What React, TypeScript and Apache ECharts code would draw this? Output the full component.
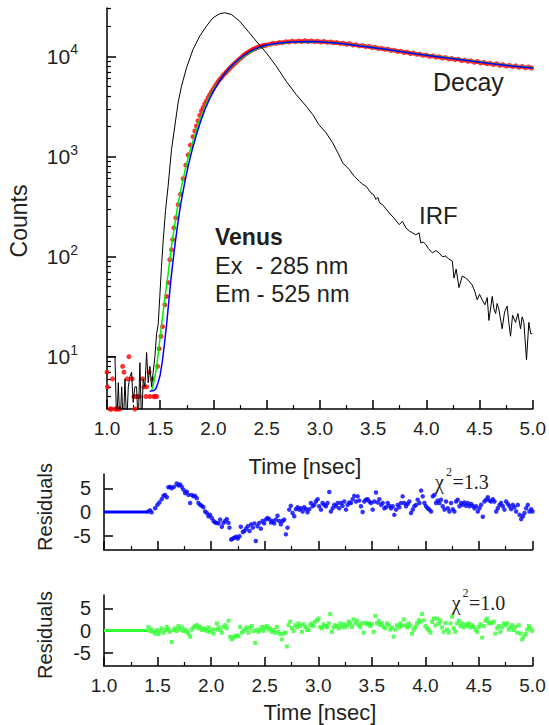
import React, { useEffect, useRef } from 'react';
import * as echarts from 'echarts';

// ---------- data ----------
// Time [nsec] vs Counts
const irf: [number, number][] = [
  [1.000, 10], [1.075, 10], [1.091, 2], [1.106, 5.5], [1.122, 2], [1.138, 5], [1.153, 2], [1.169, 6],
  [1.185, 2], [1.200, 5], [1.215, 6.3], [1.231, 7], [1.246, 3.5], [1.262, 5], [1.278, 5], [1.293, 2],
  [1.309, 8.7], [1.325, 2], [1.340, 6], [1.356, 5], [1.372, 11], [1.387, 5.5], [1.403, 8], [1.419, 5],
  [1.434, 7], [1.450, 10], [1.466, 17], [1.481, 21], [1.496, 40], [1.512, 80], [1.527, 140], [1.550, 290],
  [1.574, 505], [1.606, 1175], [1.637, 2010], [1.668, 3440], [1.700, 5050], [1.747, 7710], [1.808, 11750],
  [1.871, 15960], [1.934, 20100], [1.996, 24380], [2.059, 26730], [2.105, 27350], [2.168, 26300],
  [2.246, 22540], [2.324, 17910], [2.402, 14220], [2.496, 10890], [2.590, 8000], [2.683, 5660],
  [2.777, 4170], [2.871, 3185], [2.933, 2630], [2.989, 2090], [3.058, 1726], [3.120, 1371], [3.185, 1007],
  [3.214, 865], [3.245, 800], [3.276, 741], [3.323, 635], [3.370, 566], [3.400, 530], [3.433, 505],
  [3.480, 433], [3.505, 415], [3.527, 372], [3.545, 390], [3.560, 345], [3.588, 331], [3.620, 300],
  [3.651, 274], [3.700, 240], [3.745, 209], [3.776, 225], [3.807, 194], [3.840, 180], [3.869, 173],
  [3.900, 165], [3.932, 173], [3.948, 137], [3.970, 140], [3.995, 132], [4.020, 120], [4.057, 109],
  [4.090, 115], [4.119, 109], [4.150, 100], [4.182, 101], [4.210, 95], [4.244, 90], [4.260, 61],
  [4.280, 75], [4.307, 49], [4.338, 64], [4.370, 61], [4.400, 57], [4.431, 52], [4.455, 45], [4.478, 37],
  [4.500, 42], [4.525, 37], [4.550, 33], [4.572, 39], [4.588, 23], [4.619, 40], [4.635, 30], [4.651, 27],
  [4.665, 34], [4.681, 30], [4.712, 19], [4.735, 28], [4.759, 32], [4.775, 22], [4.791, 16], [4.810, 26],
  [4.838, 22], [4.860, 27], [4.885, 19], [4.900, 25], [4.916, 22], [4.941, 9.3], [4.963, 22], [4.980, 17],
  [4.994, 17],
];

const decay: [number, number][] = [
  [1.000, 7], [1.005, 5], [1.028, 3], [1.040, 3], [1.053, 6], [1.075, 3], [1.090, 3], [1.103, 3],
  [1.120, 3], [1.147, 8], [1.159, 7], [1.190, 6], [1.206, 10], [1.237, 6], [1.253, 4], [1.262, 3],
  [1.278, 4], [1.303, 4], [1.334, 6], [1.347, 5], [1.365, 4], [1.372, 5], [1.396, 7], [1.403, 4],
  [1.428, 6], [1.440, 4], [1.450, 4], [1.466, 4], [1.475, 8], [1.490, 12], [1.506, 16], [1.522, 20],
  [1.543, 33], [1.559, 40], [1.575, 55], [1.590, 93], [1.606, 117], [1.617, 148], [1.628, 194],
  [1.646, 244], [1.668, 331], [1.690, 420], [1.715, 600], [1.740, 820], [1.762, 1040], [1.784, 1300],
  [1.808, 1580], [1.825, 1800], [1.840, 2020], [1.855, 2280], [1.871, 2580], [1.887, 2850], [1.902, 3080],
  [1.918, 3350], [1.934, 3600], [1.950, 3880], [1.965, 4130], [1.980, 4400], [1.996, 4680], [2.012, 5000],
  [2.028, 5300], [2.043, 5600], [2.059, 5900], [2.075, 6150], [2.090, 6450], [2.106, 6750], [2.121, 7000],
  [2.137, 7300], [2.152, 7600], [2.168, 7900], [2.183, 8200], [2.199, 8500], [2.215, 8800], [2.230, 9100],
  [2.246, 9450], [2.262, 9750], [2.277, 10100], [2.293, 10400], [2.309, 10700], [2.324, 10950],
  [2.340, 11250], [2.355, 11500], [2.371, 11750], [2.387, 11950], [2.402, 12150], [2.418, 12350],
  [2.433, 12500], [2.449, 12650], [2.465, 12800], [2.480, 12900], [2.496, 13000], [2.530, 13250],
  [2.560, 13550], [2.590, 13500], [2.620, 13800], [2.650, 13750], [2.680, 14050], [2.710, 13950],
  [2.740, 14250], [2.770, 14050], [2.800, 14300], [2.830, 14100], [2.860, 14350], [2.890, 14100],
  [2.920, 14300], [2.950, 14050], [2.980, 14200], [3.010, 13950], [3.040, 14100], [3.070, 13850],
  [3.100, 13950], [3.130, 13700], [3.160, 13750], [3.190, 13500], [3.220, 13550], [3.250, 13250],
  [3.280, 13400], [3.310, 13000], [3.340, 13100], [3.370, 12750], [3.400, 12850], [3.430, 12550],
  [3.460, 12600], [3.490, 12250], [3.520, 12350], [3.550, 12000], [3.580, 12050], [3.610, 11750],
  [3.640, 11800], [3.670, 11500], [3.700, 11550], [3.730, 11200], [3.760, 11300], [3.790, 10950],
  [3.820, 11050], [3.850, 10700], [3.880, 10800], [3.910, 10500], [3.940, 10550], [3.970, 10250],
  [4.000, 10350], [4.030, 10050], [4.060, 10150], [4.090, 9850], [4.120, 9950], [4.150, 9650],
  [4.180, 9750], [4.210, 9450], [4.240, 9550], [4.270, 9300], [4.300, 9400], [4.330, 9100],
  [4.360, 9200], [4.390, 8950], [4.420, 9050], [4.450, 8750], [4.480, 8900], [4.510, 8600],
  [4.540, 8700], [4.570, 8450], [4.600, 8550], [4.630, 8300], [4.660, 8450], [4.690, 8150],
  [4.720, 8300], [4.750, 8000], [4.780, 8150], [4.810, 7900], [4.840, 8050], [4.870, 7800],
  [4.900, 7950], [4.930, 7700], [4.960, 7850], [4.990, 7650],
];

const fitGreen: [number, number][] = [
  [1.420, 4.6], [1.440, 5.5], [1.460, 7.2], [1.480, 10.5], [1.500, 16], [1.520, 24], [1.540, 36],
  [1.560, 52], [1.580, 75], [1.600, 115], [1.620, 160], [1.640, 220], [1.660, 300], [1.680, 390],
  [1.700, 500], [1.720, 630], [1.740, 780], [1.760, 950], [1.780, 1140], [1.800, 1350], [1.840, 1820],
  [1.871, 2344], [1.900, 2750], [1.930, 3300], [1.960, 3900], [2.000, 4650], [2.050, 5600], [2.100, 6600],
  [2.150, 7550], [2.200, 8500], [2.250, 9400], [2.300, 10300], [2.350, 11100], [2.400, 11800],
  [2.450, 12400], [2.500, 12900], [2.600, 13450], [2.700, 13800], [2.800, 14000], [2.900, 14100],
  [3.000, 14050], [3.200, 13500], [3.400, 12700], [3.600, 11900], [3.800, 11050], [4.000, 10350],
  [4.200, 9700], [4.400, 9100], [4.600, 8550], [4.800, 8100], [5.000, 7700],
];

const fitBlue: [number, number][] = [
  [1.400, 4.5], [1.440, 4.6], [1.460, 4.8], [1.480, 5.5], [1.500, 6.6], [1.520, 9], [1.540, 13.5],
  [1.560, 21], [1.580, 35], [1.600, 58], [1.620, 90], [1.640, 135], [1.660, 195], [1.680, 275],
  [1.700, 370], [1.720, 480], [1.740, 620], [1.760, 780], [1.780, 960], [1.800, 1170], [1.840, 1650],
  [1.880, 2250], [1.920, 2950], [1.960, 3700], [2.000, 4500], [2.050, 5550], [2.100, 6600], [2.150, 7650],
  [2.200, 8650], [2.250, 9600], [2.300, 10500], [2.350, 11300], [2.400, 12000], [2.450, 12550],
  [2.500, 13000], [2.600, 13550], [2.700, 13900], [2.800, 14050], [2.900, 14100], [3.000, 14000],
  [3.200, 13450], [3.400, 12650], [3.600, 11850], [3.800, 11000], [4.000, 10300], [4.200, 9650],
  [4.400, 9050], [4.600, 8500], [4.800, 8050], [5.000, 7650],
];

// Residuals (blue fit, chi2 = 1.3)
const residBlueFlat: [number, number][] = [[1.0, 0], [1.41, 0]];
const residBlue: [number, number][] = [
  [1.414, 0.1], [1.430, 0.35], [1.445, -0.07], [1.477, 0.8], [1.498, 1.5], [1.517, 2.0], [1.539, 2.7],
  [1.555, 3.4], [1.570, 3.6], [1.586, 3.1], [1.601, 5.2], [1.617, 5.3], [1.632, 5.0], [1.654, 5.3],
  [1.679, 6.0], [1.695, 5.6], [1.710, 5.8], [1.726, 5.3], [1.741, 4.7], [1.757, 4.0], [1.773, 4.3],
  [1.788, 3.6], [1.804, 1.9], [1.819, 3.6], [1.835, 3.3], [1.850, 3.4], [1.866, 2.9], [1.882, 1.9],
  [1.897, 1.5], [1.913, 1.3], [1.928, 1.0], [1.944, 0.1], [1.960, -0.2], [1.975, -0.9], [1.990, -0.6],
  [2.006, -1.25], [2.022, -1.9], [2.037, -2.2], [2.053, -2.3], [2.069, -2.4], [2.084, -1.6], [2.100, -3.1],
  [2.115, -2.3], [2.131, -1.9], [2.146, -1.5], [2.162, -2.3], [2.171, -3.3], [2.187, -5.8], [2.202, -5.6],
  [2.218, -5.4], [2.234, -5.2], [2.249, -5.6], [2.265, -5.1], [2.277, -3.1], [2.296, -4.2], [2.311, -4.0],
  [2.327, -3.5], [2.343, -3.0], [2.358, -4.0], [2.374, -2.6], [2.389, -3.3], [2.405, -2.4], [2.417, -6.1],
  [2.433, -3.0], [2.449, -2.3], [2.464, -3.5], [2.480, -1.9], [2.495, -2.4], [2.511, -1.6], [2.526, -1.25],
  [2.542, -1.5], [2.558, -2.2], [2.573, -1.9], [2.589, -2.4], [2.604, -1.6], [2.620, -0.8], [2.636, -1.9],
  [2.651, -2.6], [2.667, -1.9], [2.682, -1.6], [2.698, -4.7], [2.713, -3.3], [2.729, 0.5], [2.744, 1.3],
  [2.760, -0.2], [2.776, -0.9], [2.791, 0.6], [2.807, 1.0], [2.822, 0.5], [2.838, 0.8], [2.854, 0.1],
  [2.869, 1.0], [2.885, 0.6], [2.900, -0.07], [2.916, 0.6], [2.931, 1.9], [2.947, 1.2], [2.963, 1.5],
  [2.978, 2.2], [2.994, 2.7], [3.009, 1.2], [3.025, 0.5], [3.040, 1.9], [3.056, 1.5], [3.072, 1.2],
  [3.087, 1.9], [3.103, 4.2], [3.118, 0.1], [3.134, 0.8], [3.149, 1.5], [3.165, 1.2], [3.181, 1.9],
  [3.196, 0.8], [3.212, 1.9], [3.227, 1.3], [3.243, 2.2], [3.259, 0.5], [3.274, 1.5], [3.290, 2.0],
  [3.305, 1.9], [3.321, 2.7], [3.336, 3.4], [3.352, 2.2], [3.368, 3.3], [3.383, 2.4], [3.399, 1.2],
  [3.414, 0.0], [3.430, 2.2], [3.445, 2.6], [3.461, 2.7], [3.477, 2.2], [3.492, 1.9], [3.508, 0.5],
  [3.523, 2.2], [3.539, 4.1], [3.555, 2.0], [3.570, 2.7], [3.586, 1.5], [3.601, 1.9], [3.617, 0.8],
  [3.632, 1.0], [3.648, 1.9], [3.664, 1.3], [3.679, 0.8], [3.695, 1.2], [3.710, -0.6], [3.726, 0.5],
  [3.741, 1.5], [3.757, 1.0], [3.773, 1.9], [3.788, 3.3], [3.804, 1.9], [3.819, 1.2], [3.835, 1.7],
  [3.850, 2.2], [3.866, -0.2], [3.882, 0.5], [3.897, 1.2], [3.913, 1.5], [3.928, 2.6], [3.944, 1.9],
  [3.960, 4.5], [3.975, 3.3], [3.991, 1.9], [4.006, 1.2], [4.022, 0.8], [4.037, 0.5], [4.053, 0.1],
  [4.069, 3.3], [4.084, 3.6], [4.100, 1.9], [4.115, 2.4], [4.131, 1.9], [4.146, 2.6], [4.162, 1.2],
  [4.178, 0.5], [4.193, 2.2], [4.209, 0.8], [4.224, 0.1], [4.240, 1.9], [4.256, 0.6], [4.271, 0.1],
  [4.287, 2.2], [4.302, 2.6], [4.318, 1.2], [4.333, 1.9], [4.349, 1.5], [4.364, 2.0], [4.380, 1.3],
  [4.396, 1.9], [4.411, 1.2], [4.427, 1.7], [4.442, 1.3], [4.458, 0.8], [4.474, 1.2], [4.489, 0.1],
  [4.505, 0.8], [4.520, 1.5], [4.536, -1.0], [4.551, 2.2], [4.567, 2.6], [4.583, 3.1], [4.598, 2.4],
  [4.614, 2.2], [4.630, 2.7], [4.645, 2.2], [4.661, 0.1], [4.676, 0.8], [4.692, 1.5], [4.707, 1.9],
  [4.723, 1.2], [4.738, 0.5], [4.754, 2.2], [4.770, 1.7], [4.785, 1.2], [4.801, 0.6], [4.816, 1.5],
  [4.832, 1.0], [4.847, 0.1], [4.863, 1.5], [4.879, -0.6], [4.894, -1.5], [4.910, -0.9], [4.925, -0.2],
  [4.941, 0.8], [4.956, 1.5], [4.972, 0.1], [4.988, 0.6], [5.000, 0.1],
];

// Residuals (green fit, chi2 = 1.0)
const residGreenFlat: [number, number][] = [[1.0, 0], [1.41, 0]];
const residGreen: [number, number][] = [
  [1.414, 0.8], [1.430, -0.1], [1.445, 0.2], [1.461, -0.3], [1.477, -0.7], [1.492, 0.1], [1.508, -0.8],
  [1.523, -0.1], [1.539, 0.5], [1.555, -0.5], [1.570, 0.1], [1.586, 0.8], [1.601, 0.2], [1.617, -0.3],
  [1.632, -2.6], [1.648, 0.1], [1.664, 0.5], [1.679, -0.1], [1.695, 1.0], [1.710, 0.2], [1.726, 0.7],
  [1.741, -0.1], [1.757, 0.2], [1.773, -0.3], [1.788, -0.7], [1.804, -1.4], [1.819, 0.2], [1.835, 0.7],
  [1.850, 1.0], [1.866, 1.2], [1.882, 0.5], [1.897, 0.8], [1.913, 0.1], [1.928, 0.5], [1.944, 0.2],
  [1.960, -0.1], [1.975, 0.7], [1.990, -0.3], [2.006, 0.2], [2.022, -0.7], [2.037, 0.2], [2.053, 1.6],
  [2.069, 0.7], [2.084, 0.1], [2.100, -0.5], [2.115, 0.8], [2.131, 1.2], [2.146, 0.5], [2.162, 2.2],
  [2.178, -1.4], [2.193, -2.0], [2.209, -1.6], [2.224, -1.3], [2.240, -1.1], [2.255, -1.3], [2.271, 0.8],
  [2.287, -0.5], [2.302, -0.1], [2.318, 0.2], [2.333, 0.7], [2.349, -0.5], [2.364, 0.5], [2.380, 1.0],
  [2.396, -0.1], [2.411, -2.8], [2.427, 0.1], [2.442, -0.3], [2.458, 0.2], [2.474, 0.8], [2.489, -0.1],
  [2.505, 0.7], [2.520, 1.0], [2.536, 0.2], [2.551, 0.5], [2.567, -0.3], [2.583, 0.1], [2.598, -0.5],
  [2.614, 0.8], [2.629, -0.3], [2.645, -0.8], [2.660, -2.0], [2.676, -0.7], [2.692, -0.5], [2.707, -3.6],
  [2.723, 1.2], [2.738, 2.0], [2.754, 0.5], [2.769, -0.1], [2.785, 1.2], [2.801, 0.7], [2.816, 1.6],
  [2.832, 1.0], [2.847, -0.3], [2.863, 1.4], [2.879, 0.8], [2.894, 0.2], [2.910, 0.1], [2.925, 1.2],
  [2.941, 1.6], [2.956, 1.0], [2.972, 2.0], [2.988, 2.3], [3.003, 2.7], [3.019, 0.8], [3.034, 0.5],
  [3.050, 1.4], [3.065, 1.0], [3.081, 0.7], [3.097, 1.6], [3.112, 3.7], [3.128, -0.3], [3.143, 0.7],
  [3.159, 1.2], [3.174, 1.0], [3.190, 0.5], [3.206, 1.6], [3.221, 0.8], [3.237, 1.4], [3.252, 0.7],
  [3.268, 1.2], [3.283, 2.0], [3.299, 1.6], [3.315, 0.8], [3.330, 2.5], [3.346, 1.6], [3.361, 2.2],
  [3.377, 1.2], [3.393, 0.7], [3.408, 1.6], [3.424, -0.5], [3.439, 1.7], [3.455, 1.4], [3.470, 1.6],
  [3.486, 1.0], [3.502, 1.4], [3.517, -0.3], [3.533, 3.3], [3.548, 1.6], [3.564, 2.2], [3.579, 1.2],
  [3.595, 1.6], [3.611, 0.8], [3.626, 0.5], [3.642, 1.6], [3.657, 1.2], [3.673, 0.2], [3.688, 0.7],
  [3.704, -1.4], [3.720, 0.2], [3.735, 1.2], [3.751, 0.7], [3.766, 1.6], [3.782, 1.0], [3.798, 2.5],
  [3.813, 1.2], [3.829, 0.7], [3.844, 1.6], [3.860, 1.0], [3.875, -0.7], [3.891, 0.2], [3.907, 0.8],
  [3.922, 1.6], [3.938, 2.3], [3.953, 2.0], [3.969, 3.7], [3.984, 2.3], [4.000, 1.0], [4.016, 0.5],
  [4.031, 0.1], [4.047, -0.5], [4.062, 2.0], [4.078, 2.7], [4.093, 1.2], [4.109, 2.7], [4.125, 1.6],
  [4.140, 2.2], [4.156, 0.7], [4.171, -0.3], [4.187, 1.7], [4.202, 0.2], [4.218, -0.5], [4.234, 1.6],
  [4.249, 3.1], [4.265, 0.5], [4.280, -0.3], [4.296, 1.6], [4.312, 2.2], [4.327, 1.0], [4.343, 1.6],
  [4.358, 0.7], [4.374, 1.4], [4.389, 1.0], [4.405, 1.6], [4.421, 0.7], [4.436, 1.2], [4.452, 0.8],
  [4.467, 0.2], [4.483, -0.3], [4.498, 0.8], [4.514, 1.4], [4.530, -1.6], [4.545, 1.0], [4.561, 2.2],
  [4.576, 2.7], [4.592, 1.7], [4.607, 1.6], [4.623, 1.7], [4.639, 2.0], [4.654, -0.7], [4.670, 0.5],
  [4.685, 1.0], [4.701, -0.3], [4.717, 0.7], [4.732, 1.6], [4.748, 1.2], [4.763, 1.6], [4.779, 0.2],
  [4.794, 0.7], [4.810, 1.2], [4.826, 0.1], [4.841, 0.8], [4.857, -0.5], [4.872, 1.2], [4.888, -0.7],
  [4.903, -2.0], [4.919, -1.4], [4.935, -0.8], [4.950, 0.2], [4.966, 1.0], [4.981, 0.5], [4.997, -0.1],
];

const countsMin = 3;
const countsMax = 30500;
const decadeExponents = [1, 2, 3, 4];
const residualTicks = [-5, 0, 5];

// ---------- helpers ----------
const lg = (d: [number, number][]) => d.map(([t, v]) => [t, Math.log10(v)]);
const minorLogTicks: number[] = [];
for (let n = 0; n <= 4; n++) {
  for (let k = 2; k <= 9; k++) {
    const v = Math.log10(k * Math.pow(10, n));
    if (v > Math.log10(countsMin) && v < Math.log10(countsMax)) minorLogTicks.push(v);
  }
}

const SANS = '"Liberation Sans", Arial, sans-serif';
const SERIF = '"Liberation Serif", "Times New Roman", serif';
const INK = '#231f20';

const axisLineStyle = { color: '#000', width: 1.5 };

function txt(text: string, x: number, y: number, size: number, opts: any = {}) {
  const align = opts.align || 'left';
  return {
    type: 'text',
    x,
    y,
    rotation: opts.rotation || 0,
    silent: true,
    style: {
      text,
      fill: INK,
      fontSize: size,
      fontFamily: opts.family || SANS,
      fontWeight: opts.weight || 'normal',
      align,
      textAlign: align,
      verticalAlign: 'middle',
      textVerticalAlign: 'middle',
    },
  };
}

function xAxisDef(gridIndex: number, showLabels: boolean) {
  return {
    type: 'value',
    gridIndex,
    min: 1,
    max: 5,
    interval: 0.5,
    axisLine: { show: true, onZero: false, lineStyle: axisLineStyle },
    axisTick: { show: true, inside: true, length: 9, lineStyle: axisLineStyle },
    minorTick: { show: true, splitNumber: 2, length: 4, lineStyle: { color: '#000', width: 1.2 } },
    splitLine: { show: false },
    minorSplitLine: { show: false },
    axisLabel: {
      show: showLabels,
      margin: 10,
      fontSize: 19,
      fontFamily: SANS,
      color: INK,
      formatter: (v: number) => v.toFixed(1),
    },
  };
}

function residYAxis(gridIndex: number) {
  return {
    type: 'value',
    gridIndex,
    min: -8,
    max: 8,
    axisLine: { show: true, onZero: false, lineStyle: axisLineStyle },
    axisTick: { show: true, inside: true, length: 9, customValues: residualTicks, lineStyle: axisLineStyle },
    splitLine: { show: false },
    axisLabel: {
      customValues: residualTicks,
      margin: 13,
      fontSize: 20,
      fontFamily: SANS,
      color: INK,
      formatter: (v: number) => String(v),
    },
  };
}

export default function App() {
  const ref = useRef<HTMLDivElement>(null);

  useEffect(() => {
    if (!ref.current) return;
    const chart = echarts.init(ref.current, undefined, { renderer: 'svg' });
    const option: any = {
      animation: false,
      backgroundColor: '#fff',
      grid: [
        { left: 107, right: 15, top: 8, height: 401 },
        { left: 104, right: 16.5, top: 474, height: 76 },
        { left: 104, right: 16.5, top: 595, height: 71 },
      ],
      xAxis: [xAxisDef(0, true), xAxisDef(1, false), xAxisDef(2, true)],
      yAxis: [
        {
          type: 'value',
          gridIndex: 0,
          min: Math.log10(countsMin),
          max: Math.log10(countsMax),
          axisLine: { show: true, onZero: false, lineStyle: axisLineStyle },
          axisTick: { show: true, inside: true, length: 9, customValues: decadeExponents, lineStyle: axisLineStyle },
          splitLine: { show: false },
          axisLabel: {
            customValues: decadeExponents,
            margin: 29,
            color: INK,
            fontFamily: SANS,
            formatter: (v: number) => `{b|10}{s|${Math.round(v)}}`,
            rich: {
              b: { fontSize: 21, lineHeight: 28, fontFamily: SANS, color: INK },
              s: { fontSize: 14, lineHeight: 14, verticalAlign: 'top', fontFamily: SANS, color: INK },
            },
          },
        },
        {
          type: 'value',
          gridIndex: 0,
          position: 'left',
          offset: 0,
          min: Math.log10(countsMin),
          max: Math.log10(countsMax),
          axisLine: { show: false },
          axisTick: { show: true, inside: true, length: 4, customValues: minorLogTicks, lineStyle: { color: '#000', width: 1.2 } },
          axisLabel: { show: false },
          splitLine: { show: false },
        },
        residYAxis(1),
        residYAxis(2),
      ],
      series: [
        {
          type: 'scatter', name: 'Decay', xAxisIndex: 0, yAxisIndex: 0,
          data: lg(decay), symbol: 'circle', symbolSize: 5,
          itemStyle: { color: '#ff0000' }, silent: true, z: 2,
        },
        {
          type: 'line', name: 'Fit 2', xAxisIndex: 0, yAxisIndex: 0,
          data: lg(fitGreen), showSymbol: false, symbol: 'none',
          lineStyle: { color: '#00ee00', width: 1.5 }, silent: true, z: 3,
        },
        {
          type: 'line', name: 'Fit 1', xAxisIndex: 0, yAxisIndex: 0,
          data: lg(fitBlue), showSymbol: false, symbol: 'none',
          lineStyle: { color: '#0000ff', width: 1.5 }, silent: true, z: 4,
        },
        {
          type: 'line', name: 'IRF', xAxisIndex: 0, yAxisIndex: 0,
          data: lg(irf), showSymbol: false, symbol: 'none', clip: true,
          lineStyle: { color: '#000', width: 1 }, silent: true, z: 5,
        },
        {
          type: 'line', xAxisIndex: 1, yAxisIndex: 2, data: residBlueFlat,
          showSymbol: false, symbol: 'none', lineStyle: { color: '#0000ff', width: 3 }, silent: true,
        },
        {
          type: 'scatter', xAxisIndex: 1, yAxisIndex: 2, data: residBlue,
          symbol: 'circle', symbolSize: 4.5, itemStyle: { color: '#0000ff' }, silent: true,
        },
        {
          type: 'line', xAxisIndex: 2, yAxisIndex: 3, data: residGreenFlat,
          showSymbol: false, symbol: 'none', lineStyle: { color: '#33ff33', width: 3 }, silent: true,
        },
        {
          type: 'scatter', xAxisIndex: 2, yAxisIndex: 3, data: residGreen,
          symbol: 'rect', symbolSize: 4, itemStyle: { color: '#33ff33' }, silent: true,
        },
      ],
      graphic: [
        txt('Counts', 19, 221, 23, { rotation: Math.PI / 2, align: 'center' }),
        txt('Time [nsec]', 305, 466, 22, { align: 'center' }),
        txt('Residuals', 45, 507, 20, { rotation: Math.PI / 2, align: 'center' }),
        txt('Residuals', 45, 635, 20, { rotation: Math.PI / 2, align: 'center' }),
        txt('Time [nsec]', 320, 712, 22, { align: 'center' }),
        txt('Venus', 215, 237, 23, { weight: 'bold' }),
        txt('Ex  - 285 nm', 215, 266, 23.5),
        txt('Em - 525 nm', 215, 294, 23.5),
        txt('Decay', 433, 82, 25),
        txt('IRF', 419, 215, 24),
        txt('χ', 435, 482, 20, { family: SERIF }),
        txt('2', 446, 472, 12, { family: SERIF }),
        txt('=1.3', 452.5, 482, 20, { family: SERIF }),
        txt('χ', 451.7, 603, 20, { family: SERIF }),
        txt('2', 462.5, 593, 12, { family: SERIF }),
        txt('=1.0', 469, 603, 20, { family: SERIF }),
      ],
    };
    chart.setOption(option);
    return () => chart.dispose();
  }, []);

  return (
    <div
      ref={ref}
      style={{ position: 'fixed', left: 0, top: 0, width: 549, height: 725, background: '#fff' }}
    />
  );
}
